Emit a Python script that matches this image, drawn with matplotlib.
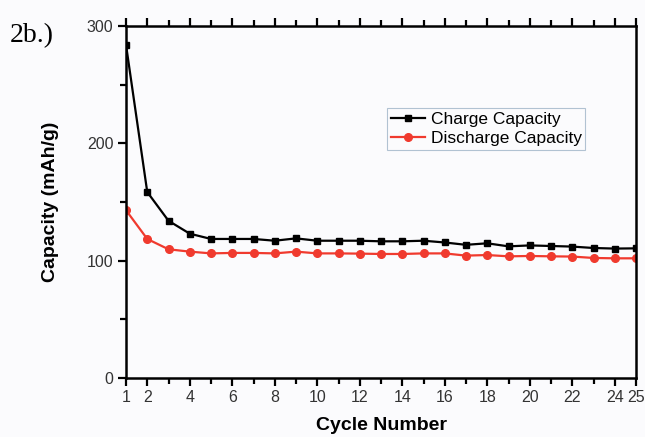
import numpy as np
import matplotlib.pyplot as plt
from matplotlib.ticker import MultipleLocator, FixedLocator

plt.rcParams['font.family'] = ['Liberation Sans', 'DejaVu Sans']

# 數據
cycles = list(range(1, 26))
charge = [284, 158.5, 134, 123, 118.5, 118.5, 118.5, 117, 119, 117,
          117, 117, 116.5, 116.5, 117, 115.5, 113.5, 114.8, 112.2, 113,
          112.5, 112, 110.8, 110.3, 110.5]
discharge = [143, 118.5, 109.7, 107.7, 106.2, 106.6, 106.6, 106.2, 107.7, 106.2,
             106.2, 106, 105.7, 105.7, 106.2, 106.2, 104.3, 104.8, 103.7, 104,
             103.7, 103.5, 102.3, 102, 102]
xtick_labels = [1, 2, 4, 6, 8, 10, 12, 14, 16, 18, 20, 22, 24, 25]

bg = '#fbfbfd'
fig = plt.figure(figsize=(6.45, 4.37), dpi=100, facecolor=bg)
ax = fig.add_axes([126 / 645, 1 - 378 / 437, 510 / 645, 352 / 437])
ax.set_facecolor(bg)

ax.plot(cycles, charge, '-s', color='black', lw=1.6, ms=5, label='Charge Capacity')
ax.plot(cycles, discharge, '-o', color='#f03a2e', lw=1.6, ms=5.5, label='Discharge Capacity')

ax.set_xlim(1, 25)
ax.set_ylim(0, 300)
ax.xaxis.set_major_locator(FixedLocator(xtick_labels))
ax.xaxis.set_minor_locator(FixedLocator([3, 5, 7, 9, 11, 13, 15, 17, 19, 21, 23]))
ax.yaxis.set_major_locator(MultipleLocator(100))
ax.yaxis.set_minor_locator(MultipleLocator(50))

for s in ax.spines.values():
    s.set_linewidth(1.8)
ax.tick_params(which='major', direction='out', length=6, width=1.6, pad=3,
               labelsize=11.5, labelcolor='#333333', top=True, right=False)
ax.tick_params(which='minor', direction='out', length=4, width=1.6, top=True, right=False)

ax.set_xlabel('Cycle Number', fontsize=14, fontweight='bold', labelpad=8)
ax.set_ylabel('Capacity (mAh/g)', fontsize=14, fontweight='bold', labelpad=20)

leg = ax.legend(loc='upper left', bbox_to_anchor=(0.512, 0.767), fontsize=12.5,
                frameon=True, fancybox=False, handlelength=2.0, handletextpad=0.3,
                borderpad=0.2, labelspacing=0.25, borderaxespad=0)
leg.get_frame().set_edgecolor('#9fb4c8')
leg.get_frame().set_linewidth(0.8)
leg.get_frame().set_facecolor(bg)

fig.text(10 / 645, 1 - 42 / 437, '2b.)', fontsize=20, family='Liberation Serif')

fig.savefig('out.png', dpi=100, facecolor=bg)
